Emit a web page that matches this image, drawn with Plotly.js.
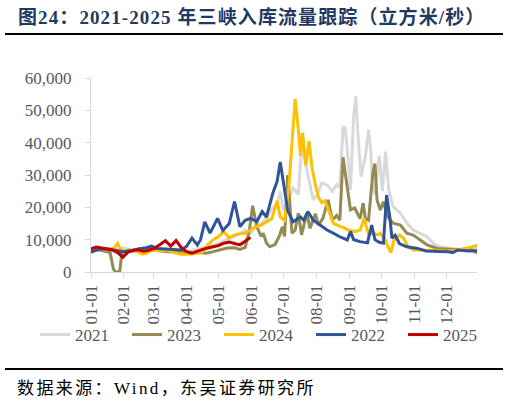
<!DOCTYPE html>
<html>
<head>
<meta charset="utf-8">
<script src="https://cdn.plot.ly/plotly-3.0.1.min.js"></script>
<style>
html,body{margin:0;padding:0;background:#fff;}
#chart{width:509px;height:402px;}
.gtitle{letter-spacing:1.1px;}
.annotation-text{letter-spacing:2.4px;}
</style>
</head>
<body>
<div id="chart"></div>
<script>
// Day-of-year (0 = Jan 1) and inflow values (m3/s)
var d2021 = [0,8,15,22,30,38,45,52,60,68,75,82,90,97,104,110,117,124,131,138,145,150,155,160,165,170,175,178,181,185,190,195,198,201,204,209,213,217,222,227,231,234,237,239,241,244,247,249,251,254,258,261,263,265,267,271,274,277,280,284,291,297,303,310,316,322,328,335,347,359,364];
var v2021 = [6500,6800,6500,7000,7500,6800,6500,7000,6800,6500,7000,6500,6300,6800,7500,8000,8500,9500,10500,11500,13000,12000,14500,15000,16500,19500,21000,25000,19000,22000,26000,24000,39000,34700,30000,22300,24000,27500,26900,25000,27000,26000,45000,44500,37800,25400,48000,54300,42900,29500,35700,44000,38000,25400,24000,36000,25000,37200,25400,20200,18200,15100,13000,12000,10900,8900,7800,7500,7000,7300,7500];

var d2023 = [0,6,12,18,21,23,27,29,35,42,50,58,65,72,80,88,95,102,108,115,122,128,135,140,145,149,152,156,160,162,165,168,173,177,180,182,185,187,189,192,195,198,203,206,211,214,218,223,227,231,234,237,241,244,248,253,256,258,261,265,267,269,272,275,279,284,291,297,303,310,316,326,335,347,357,364];
var v2023 = [6000,7000,6500,6000,1000,0,0,6000,6800,6500,6300,6800,6500,6300,6000,6000,5800,6000,5800,6300,7000,7400,7500,7000,7600,13000,20500,14000,11000,12000,9000,7800,8500,11000,14000,11000,30000,20000,12000,13000,18200,11500,18200,13500,18000,14500,16500,22300,16000,17500,16000,35500,26400,19200,19800,16500,21300,16500,16000,30500,33500,22300,19200,21700,17100,15100,14500,12000,11400,9900,8400,7300,7000,6800,7000,5800];

var d2024 = [0,8,15,22,25,28,35,42,48,52,58,65,72,78,85,92,100,105,110,115,120,125,130,135,140,145,150,155,160,165,170,175,178,182,186,189,192,195,197,199,202,205,208,211,214,217,220,223,228,235,242,248,253,257,261,265,270,272,276,279,282,285,290,294,298,303,308,315,325,335,345,355,364];
var v2024 = [7000,7200,6800,7500,8900,6800,6500,6500,5500,5800,6800,6500,6800,6000,5500,5500,5800,6200,8500,10000,11000,12500,10500,11500,11800,12000,13000,14000,14500,15500,16500,22000,17000,16000,26000,40000,53500,44000,36000,43000,33000,40500,32000,27000,23000,21500,22000,19500,15000,14000,13000,12500,13000,16500,11500,12000,11500,12000,10400,8000,6000,9900,11400,10500,7800,6800,6800,6800,6700,6400,6800,7500,8300];

var d2022 = [0,8,15,22,30,38,45,52,57,62,70,78,85,90,95,100,103,107,112,119,124,130,135,140,145,150,156,161,165,171,175,178,181,185,190,197,200,204,209,215,222,228,234,241,244,247,253,260,264,267,271,275,278,281,283,286,290,297,307,315,325,335,340,345,355,364];
var v2022 = [6300,7000,7200,6800,6300,6500,7200,7500,8000,7300,7200,7000,6800,8000,10500,8400,10000,15500,12000,16600,12800,15000,21800,14000,16000,16600,15600,18700,17000,24400,28000,34000,28000,19000,15500,17000,16000,18700,16000,14500,13000,12000,10900,9900,12500,10000,9400,9000,14500,10000,9200,8900,23800,17000,10500,11400,8800,7800,7300,6500,6500,6300,6000,6800,6500,6600];

var d2025 = [0,5,10,15,20,25,30,35,40,45,50,55,60,65,70,75,80,85,90,95,100,105,110,115,120,125,130,135,140,145,150];
var v2025 = [7200,7700,7400,7000,6800,6000,4600,6200,6800,6800,6400,6800,7400,8500,9700,8000,9700,7500,6300,5800,6500,7000,7400,7800,8200,8900,9300,8800,8400,9500,10700];

var seriesNames = ['2021','2023','2024','2022','2025'];
var seriesDays = [d2021, d2023, d2024, d2022, d2025];
var seriesVals = [v2021, v2023, v2024, v2022, v2025];
var seriesColors = ['#D9D9D9','#948A54','#FFC000','#2F5597','#C00000'];

var titleText = '图24：2021-2025 年三峡入库流量跟踪（立方米/秒）';
var sourceText = '数据来源：Wind，东吴证券研究所';

function toDate(day){
  var t = new Date(Date.UTC(2021, 0, 1 + day));
  return t.toISOString().slice(0,10);
}

var serif = 'Liberation Serif, Times New Roman, Noto Sans CJK SC, serif';
var traces = seriesNames.map(function(n, i){
  return {
    x: seriesDays[i].map(toDate),
    y: seriesVals[i],
    name: n,
    type: 'scatter',
    mode: 'lines',
    line: {color: seriesColors[i], width: 3}
  };
});

var layout = {
  width: 509, height: 402,
  margin: {l: 91, r: 32, t: 78, b: 130},
  paper_bgcolor: '#fff', plot_bgcolor: '#fff',
  showlegend: true,
  title: {
    text: '<b>' + titleText + '</b>',
    font: {family: serif, size: 19, color: '#1F3864'},
    x: 18/509, xanchor: 'left', xref: 'container',
    y: 1 - 17/402, yanchor: 'middle', yref: 'container'
  },
  xaxis: {
    type: 'date',
    range: ['2021-01-01', '2021-12-30'],
    tick0: '2021-01-01', dtick: 'M1',
    tickformat: '%m-%d',
    tickangle: -90,
    showgrid: false, zeroline: false,
    showline: true, linecolor: '#D9D9D9', linewidth: 1,
    ticks: 'outside', ticklen: 5, tickcolor: '#D9D9D9',
    tickfont: {family: serif, size: 17, color: '#595959'}
  },
  yaxis: {
    range: [0, 60000], dtick: 10000, tickformat: ',d',
    showgrid: false, zeroline: false,
    showline: true, linecolor: '#D9D9D9', linewidth: 1,
    ticks: 'outside', ticklen: 5, tickcolor: '#D9D9D9',
    ticklabelstandoff: 10,
    tickfont: {family: serif, size: 17, color: '#595959'}
  },
  legend: {
    orientation: 'h',
    xref: 'paper', yref: 'paper',
    x: (35-91)/386, xanchor: 'left',
    y: (272-335)/194, yanchor: 'middle',
    entrywidth: 47, entrywidthmode: 'pixels',
    font: {family: serif, size: 17, color: '#595959'},
    bgcolor: 'rgba(0,0,0,0)'
  },
  shapes: [
    {type: 'line', xref: 'paper', yref: 'paper', x0: (5-91)/386, x1: (503-91)/386, y0: (272-34)/194, y1: (272-34)/194, line: {color: '#000', width: 2}},
    {type: 'line', xref: 'paper', yref: 'paper', x0: (5-91)/386, x1: (503-91)/386, y0: (272-369)/194, y1: (272-369)/194, line: {color: '#000', width: 2}}
  ],
  annotations: [
    {text: sourceText, xref: 'paper', yref: 'paper', x: (15-91)/386, xanchor: 'left', y: (272-388)/194, yanchor: 'middle', showarrow: false, font: {family: serif, size: 17, color: '#000'}}
  ]
};

Plotly.newPlot('chart', traces, layout, {displayModeBar: false, staticPlot: true});
</script>
</body>
</html>
